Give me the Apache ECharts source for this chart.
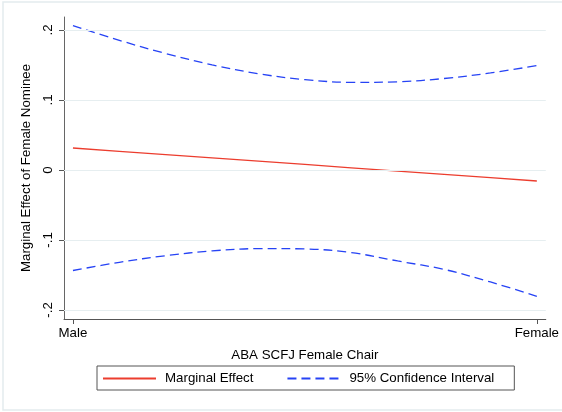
<!DOCTYPE html>
<html>
<head>
<meta charset="utf-8">
<script src="https://cdn.jsdelivr.net/npm/echarts@6/dist/echarts.min.js"></script>
<style>
html,body{margin:0;padding:0;background:#fff;}
#chart{width:562px;height:412px;}
</style>
</head>
<body>
<div id="chart"></div>
<script>
// ---- data ----
var xTicks = [0, 1];
var xTickLabels = ['Male', 'Female'];
var yTicks = [-0.2, -0.1, 0, 0.1, 0.2];
var yTickLabels = ['-.2', '-.1', '0', '.1', '.2'];

var xValues  = [0, 0.1, 0.2, 0.3, 0.4, 0.5, 0.6, 0.7, 0.8, 0.9, 1.0];
var effect   = [0.0314, 0.0267, 0.0220, 0.0173, 0.0126, 0.0079, 0.0031, -0.0016, -0.0063, -0.0110, -0.0157];
var upperCI  = [0.2064, 0.1853, 0.1664, 0.1502, 0.1375, 0.1291, 0.1252, 0.1260, 0.1307, 0.1387, 0.1491];
var lowerCI  = [-0.1436, -0.1319, -0.1224, -0.1156, -0.1123, -0.1128, -0.1180, -0.1300, -0.1420, -0.1600, -0.1805];

var seriesNames = ['Marginal Effect', '95% Confidence Interval'];
var xTitle = 'ABA SCFJ Female Chair';
var yTitle = 'Marginal Effect of Female Nominee';

function pairs(xs, ys) { return xs.map(function (x, i) { return [x, ys[i]]; }); }
function nearestLabel(v, ticks, labels) {
  var best = 0;
  for (var i = 1; i < ticks.length; i++) {
    if (Math.abs(ticks[i] - v) < Math.abs(ticks[best] - v)) best = i;
  }
  return labels[best];
}

var FONT = '"Liberation Sans", Arial, Helvetica, sans-serif';
var FS = 13.3;
var chart = echarts.init(document.getElementById('chart'), null, {renderer: 'canvas'});
var option = {
  backgroundColor: '#ffffff',
  animation: false,
  textStyle: {fontFamily: FONT},
  graphic: [{
    type: 'rect', silent: true, z: -10,
    shape: {x: 3, y: 2, width: 570, height: 408},
    style: {fill: 'none', stroke: '#e3ebee', lineWidth: 1.5}
  }],
  grid: {left: 64, right: 13, top: 17, bottom: 93, containLabel: false},
  xAxis: {
    type: 'value', min: -0.0193, max: 1.0193,
    name: xTitle, nameLocation: 'middle', nameGap: 30,
    nameTextStyle: {fontSize: FS, color: '#000', fontFamily: FONT},
    axisLine: {show: true, onZero: false, lineStyle: {color: '#555', width: 1}},
    axisTick: {show: true, length: 5, customValues: xTicks, lineStyle: {color: '#555'}},
    axisLabel: {
      customValues: xTicks, fontSize: FS, color: '#000', margin: 8, fontFamily: FONT,
      formatter: function (v) { return nearestLabel(v, xTicks, xTickLabels); }
    },
    splitLine: {show: false}
  },
  yAxis: {
    type: 'value', min: -0.2129, max: 0.2186,
    name: yTitle, nameLocation: 'middle', nameGap: 31,
    nameTextStyle: {fontSize: FS, color: '#000', fontFamily: FONT},
    axisLine: {show: true, onZero: false, lineStyle: {color: '#666', width: 1}},
    axisTick: {show: true, length: 5, customValues: yTicks, lineStyle: {color: '#555'}},
    axisLabel: {
      customValues: yTicks, rotate: 90, fontSize: FS, color: '#000', margin: 9, fontFamily: FONT,
      formatter: function (v) { return nearestLabel(v, yTicks, yTickLabels); }
    },
    splitLine: {show: false}
  },
  legend: {
    left: 97, top: 366,
    padding: [6, 20, 5, 5],
    itemWidth: 53, itemHeight: 14, itemGap: 33,
    borderColor: '#555', borderWidth: 1,
    itemStyle: {opacity: 0},
    textStyle: {fontSize: FS, color: '#000', fontFamily: FONT, padding: [0, 0, 0, 4]},
    data: seriesNames
  },
  series: [
    {
      name: 'gridlines', type: 'line', data: [], z: 1, silent: true,
      markLine: {
        silent: true, symbol: 'none', animation: false,
        label: {show: false},
        lineStyle: {color: '#e6eef0', width: 1, type: 'solid'},
        data: yTicks.map(function (v) { return {yAxis: v}; })
      }
    },
    {
      name: seriesNames[0], type: 'line', data: pairs(xValues, effect), z: 3,
      symbol: 'none', smooth: false,
      lineStyle: {color: '#ec3d2e', width: 1.3},
      itemStyle: {color: '#ec3d2e'}
    },
    {
      name: seriesNames[1], type: 'line', data: pairs(xValues, upperCI), z: 3,
      symbol: 'none', smooth: 0.35,
      lineStyle: {color: '#2643f5', width: 1.3, type: [9, 5]},
      itemStyle: {color: '#2643f5'}
    },
    {
      name: seriesNames[1], type: 'line', data: pairs(xValues, lowerCI), z: 3,
      symbol: 'none', smooth: 0.35,
      lineStyle: {color: '#2643f5', width: 1.3, type: [9, 5]},
      itemStyle: {color: '#2643f5'}
    }
  ]
};
chart.setOption(option);
</script>
</body>
</html>
